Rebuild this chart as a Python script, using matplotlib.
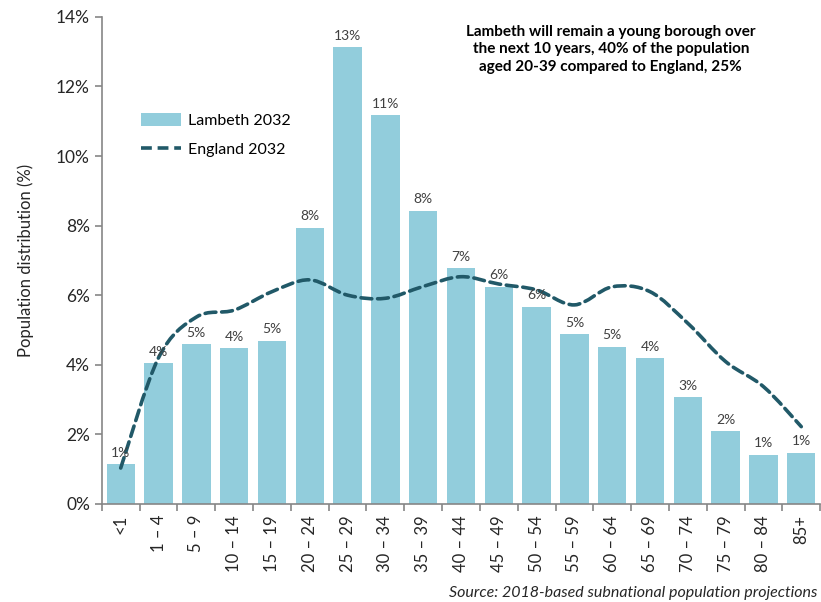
from matplotlib import pyplot as plt
from matplotlib.path import Path
from matplotlib.patches import PathPatch
from matplotlib.lines import Line2D
from matplotlib.patches import Patch
import matplotlib.ticker
import numpy as np

plt.rcParams['font.family'] = ['Lato', 'DejaVu Sans']

age_groups = ['<1', '1 \u2013 4', '5 \u2013 9', '10 \u2013 14', '15 \u2013 19', '20 \u2013 24',
              '25 \u2013 29', '30 \u2013 34', '35 \u2013 39', '40 \u2013 44', '45 \u2013 49',
              '50 \u2013 54', '55 \u2013 59', '60 \u2013 64', '65 \u2013 69', '70 \u2013 74',
              '75 \u2013 79', '80 \u2013 84', '85+']
lambeth_2032 = [1.14, 4.04, 4.59, 4.47, 4.69, 7.94, 13.12, 11.17, 8.43, 6.77, 6.24,
                5.67, 4.88, 4.51, 4.19, 3.07, 2.09, 1.41, 1.47]
england_2032 = [1.03, 4.2, 5.37, 5.57, 6.1, 6.44, 6.0, 5.91, 6.25, 6.53, 6.32,
                6.15, 5.72, 6.24, 6.1, 5.19, 4.09, 3.37, 2.22]
bar_labels = ['1%', '4%', '5%', '4%', '5%', '8%', '13%', '11%', '8%', '7%', '6%',
              '6%', '5%', '5%', '4%', '3%', '2%', '1%', '1%']

BAR_COLOR = '#92CDDC'
LINE_COLOR = '#215968'
TEXT_COLOR = '#404040'
AXIS_COLOR = '#868686'


def smooth_path(xs, ys):
    # catmull-rom style bezier like excel's smoothed line
    verts = [(xs[0], ys[0])]
    codes = [Path.MOVETO]
    n = len(xs)
    for i in range(n - 1):
        x0, y0 = (xs[i - 1], ys[i - 1]) if i > 0 else (xs[i], ys[i])
        x1, y1 = xs[i], ys[i]
        x2, y2 = xs[i + 1], ys[i + 1]
        x3, y3 = (xs[i + 2], ys[i + 2]) if i + 2 < n else (x2, y2)
        c1 = (x1 + (x2 - x0) / 6, y1 + (y2 - y0) / 6)
        c2 = (x2 - (x3 - x1) / 6, y2 - (y3 - y1) / 6)
        verts += [c1, c2, (x2, y2)]
        codes += [Path.CURVE4] * 3
    return Path(verts, codes)


fig = plt.figure(figsize=(8.21, 6.02), dpi=100)
ax = fig.add_axes([0.124, 0.163, 0.875, 0.809])

x = np.arange(len(age_groups))
bars = ax.bar(x, lambeth_2032, width=0.75, color=BAR_COLOR, zorder=2)

for xi, v, lab in zip(x, lambeth_2032, bar_labels):
    ax.annotate(lab, (xi, v), xytext=(0, 4), textcoords='offset points',
                ha='center', va='bottom', fontsize=10, color=TEXT_COLOR, zorder=4)

line_path = smooth_path(list(x), england_2032)
ax.add_patch(PathPatch(line_path, fill=False, edgecolor=LINE_COLOR, lw=2.6,
                       linestyle=(0, (3, 1.6)), zorder=3, capstyle='round'))

ax.set_xlim(-0.5, len(age_groups) - 0.5)
ax.set_ylim(0, 14)
ax.yaxis.set_major_locator(matplotlib.ticker.MultipleLocator(2))
ax.yaxis.set_major_formatter(matplotlib.ticker.FuncFormatter(lambda v, p: '%d%%' % v))
ax.set_xticks(x)
ax.set_xticklabels(age_groups, rotation=90, fontsize=12, color='#262626')
ax.set_xticks(np.arange(-0.5, len(age_groups)), minor=True)
ax.tick_params(axis='x', which='major', length=0, pad=8)
ax.tick_params(axis='x', which='minor', length=5, color=AXIS_COLOR, width=1.2)
ax.tick_params(axis='y', length=5, color=AXIS_COLOR, width=1.2, labelsize=12.5, labelcolor='#262626')

for s in ['top', 'right']:
    ax.spines[s].set_visible(False)
for s in ['left', 'bottom']:
    ax.spines[s].set_color(AXIS_COLOR)
    ax.spines[s].set_linewidth(1.2)

ax.set_ylabel('Population distribution (%)', fontsize=12, color='#262626', labelpad=16)

handles = [Patch(facecolor=BAR_COLOR, edgecolor='none'),
           Line2D([0], [0], color=LINE_COLOR, lw=2.6, linestyle=(0, (3, 1.6)))]
ax.legend(handles, ['Lambeth 2032', 'England 2032'], loc='upper left',
          bbox_to_anchor=(0.035, 0.832), frameon=False, fontsize=11.5,
          handlelength=2.5, handleheight=0.9, labelspacing=0.85, handletextpad=0.4)

fig.text(0.744, 0.918, 'Lambeth will remain a young borough over\nthe next 10 years, 40% of the population\naged 20-39 compared to England, 25%',
         ha='center', va='center', fontsize=11, fontweight='bold', color='black', linespacing=1.35)

fig.text(0.996, 0.004, 'Source: 2018-based subnational population projections',
         ha='right', va='bottom', fontsize=11.5, style='italic', color='#262626')

plt.savefig('out.png', dpi=100)
